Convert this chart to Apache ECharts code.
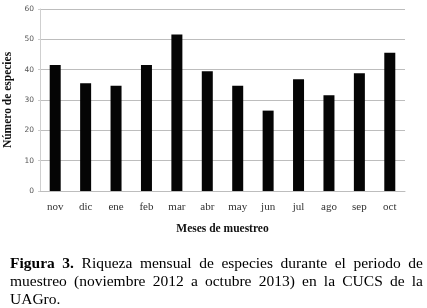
<!DOCTYPE html>
<html><head><meta charset="utf-8">
<script src="https://cdn.jsdelivr.net/npm/echarts@6/dist/echarts.min.js"></script>
<style>
html,body{margin:0;padding:0;background:#fff;}
#c{position:absolute;left:0;top:0;width:427px;height:308px;}
#cap{position:absolute;left:10px;top:254px;width:413px;font-family:"Liberation Serif",serif;font-size:15.5px;line-height:17.8px;color:#000;}
#cap span{display:block;white-space:nowrap;}
#cap span.j{text-align:justify;text-align-last:justify;}
</style></head>
<body>
<div id="c"></div>
<div id="cap"><span class="j"><b>Figura 3.</b> Riqueza mensual de especies durante el periodo de</span><span class="j">muestreo (noviembre 2012 a octubre 2013) en la CUCS de la</span><span>UAGro.</span></div>
<script>
const months = ["nov","dic","ene","feb","mar","abr","may","jun","jul","ago","sep","oct"];
const species = [41.5, 35.5, 34.7, 41.5, 51.6, 39.5, 34.7, 26.5, 36.8, 31.6, 38.8, 45.6];
const yTicks = {min: 0, max: 60, interval: 10};

const chart = echarts.init(document.getElementById('c'));
chart.setOption({
  animation: false,
  grid: {left: 40, right: 22, top: 9, bottom: 117, containLabel: false, outerBoundsMode: 'none'},
  xAxis: {
    type: 'category', data: months,
    axisLine: {lineStyle: {color: '#bdbdbd', width: 1}},
    axisTick: {show: false},
    axisLabel: {fontFamily: 'Liberation Serif', fontSize: 11, color: '#333', margin: 11},
    name: 'Meses de muestreo', nameLocation: 'middle', nameGap: 32,
    nameTextStyle: {fontFamily: 'Liberation Serif', fontWeight: 'bold', fontSize: 11.5, color: '#111'}
  },
  yAxis: {
    type: 'value', min: yTicks.min, max: yTicks.max, interval: yTicks.interval,
    axisLine: {show: true, lineStyle: {color: '#cfcfcf'}},
    axisTick: {show: true, length: 2, lineStyle: {color: '#cfcfcf'}},
    splitLine: {lineStyle: {color: '#bdbdbd', width: 1}},
    axisLabel: {fontFamily: 'DejaVu Sans', fontSize: 7.5, color: '#555', margin: 6},
    name: 'Número de especies', nameLocation: 'middle', nameGap: 23,
    nameTextStyle: {fontFamily: 'Liberation Serif', fontWeight: 'bold', fontSize: 11.5, color: '#111'}
  },
  series: [{
    type: 'bar', data: species, barWidth: 11,
    itemStyle: {color: '#050505'}
  }]
});
</script>
</body></html>
